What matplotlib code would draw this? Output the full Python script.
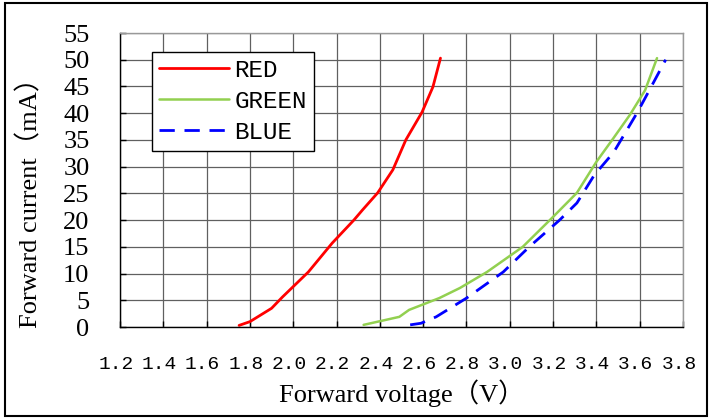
import matplotlib
matplotlib.use("Agg")
import matplotlib.pyplot as plt
from matplotlib.patches import Rectangle
from matplotlib.transforms import ScaledTranslation
import numpy as np

# ---- data ----
red_v = [1.75, 1.80, 1.90, 1.95, 2.07, 2.18, 2.28, 2.32, 2.39, 2.46, 2.52, 2.595, 2.645, 2.68]
red_i = [0.3, 1.0, 3.5, 5.6, 10.3, 15.7, 20.0, 21.9, 25.1, 29.4, 35.0, 40.2, 44.9, 50.3]

green_v = [2.325, 2.49, 2.535, 2.674, 2.77, 2.895, 3.06, 3.20, 3.31, 3.40, 3.48, 3.555, 3.625, 3.68]
green_i = [0.4, 1.9, 3.2, 5.4, 7.3, 10.3, 15.0, 20.6, 25.1, 30.9, 35.4, 39.7, 44.3, 50.3]

blue_v = [2.54, 2.59, 2.66, 2.80, 2.97, 3.09, 3.23, 3.31, 3.39, 3.48, 3.59, 3.65, 3.72]
blue_i = [0.4, 0.7, 1.9, 5.4, 10.3, 15.0, 20.0, 23.2, 28.4, 32.7, 40.2, 44.7, 50.0]

x_ticks = [1.2, 1.4, 1.6, 1.8, 2.0, 2.2, 2.4, 2.6, 2.8, 3.0, 3.2, 3.4, 3.6, 3.8]
x_tick_labels = ["1.2", "1.4", "1.6", "1.8", "2.0", "2.2", "2.4", "2.6", "2.8",
                 "3.0", "3.2", "3.4", "3.6", "3.8"]
y_ticks = [0, 5, 10, 15, 20, 25, 30, 35, 40, 45, 50, 55]
y_tick_labels = ["0", "5", "10", "15", "20", "25", "30", "35", "40", "45", "50", "55"]

series_names = ["RED", "GREEN", "BLUE"]
x_label = "Forward voltage（V）"
y_label = "Forward current（mA）"

# ---- figure ----
fig = plt.figure(figsize=(7.13, 4.19), dpi=100)
ax = fig.add_axes([120 / 713, 1 - 327 / 419, 563 / 713, 294 / 419])

ax.set_xlim(1.2, 3.8)
ax.set_ylim(0, 55)
ax.set_xticks(x_ticks)
ax.set_xticklabels(x_tick_labels, family=["Liberation Mono"], fontsize=14)
ax.set_yticks(y_ticks)
ax.set_yticklabels(y_tick_labels, family=["Liberation Serif"], fontsize=19)
ax.tick_params(axis="x", direction="in", length=4, width=1, pad=21, color="black")
ax.tick_params(axis="y", direction="in", length=4, width=1, pad=22, color="black")
shift = ScaledTranslation(-4 / 100, 0, fig.dpi_scale_trans)
for lbl in ax.get_xticklabels():
    lbl.set_transform(lbl.get_transform() + shift)

ax.grid(True, color="#606060", linewidth=0.9)
ax.set_axisbelow(True)
for s in ["left", "bottom"]:
    ax.spines[s].set_color("black")
    ax.spines[s].set_linewidth(1.0)
for s in ["top", "right"]:
    ax.spines[s].set_color("#999999")
    ax.spines[s].set_linewidth(1.0)

ax.plot(red_v, red_i, color="#FF0000", lw=2.0, label=series_names[0],
        solid_capstyle="round", solid_joinstyle="round")
ax.plot(green_v, green_i, color="#92D050", lw=1.8, label=series_names[1],
        solid_capstyle="round", solid_joinstyle="round")
ax.plot(blue_v, blue_i, color="#0000FF", lw=2.0, label=series_names[2],
        dashes=(5.5, 3.5))

leg = ax.legend(loc="upper left", bbox_to_anchor=(0.057, 0.935), borderaxespad=0,
                fancybox=False, framealpha=1, edgecolor="black",
                prop={"family": "Liberation Mono", "size": 17.5},
                handlelength=2.9, handletextpad=0.2, labelspacing=0.33,
                borderpad=0.28)
leg.get_frame().set_linewidth(1.0)

ax.set_xlabel(x_label, family=["Liberation Serif", "Noto Sans CJK SC"], fontsize=19,
              va="center")
ax.xaxis.set_label_coords(0.5, (327 - 393) / 294)
ax.set_ylabel(y_label, family=["Liberation Serif", "Noto Sans CJK SC"], fontsize=19,
              va="center")
ax.yaxis.set_label_coords((30 - 120) / 563, 0.445)

# outer border
fig.patches.append(Rectangle((5 / 713, 3 / 419), 702 / 713, 413 / 419,
                             transform=fig.transFigure, fill=False,
                             edgecolor="black", linewidth=1.5))

fig.savefig("out.png", dpi=100)
